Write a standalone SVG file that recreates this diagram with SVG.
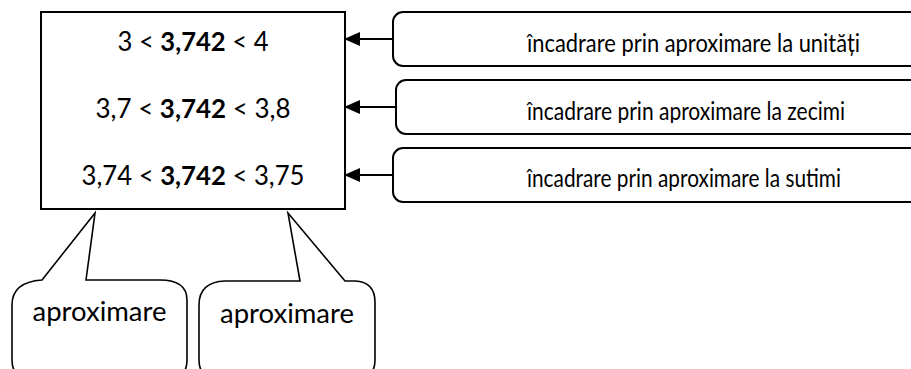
<svg xmlns="http://www.w3.org/2000/svg" width="911" height="369" viewBox="0 0 911 369">
<style>
.t{font-family:Lato,"Open Sans","Liberation Sans",sans-serif;font-size:26px;fill:#000}
.r{font-size:24.5px}
.c{font-size:27px}
.b{font-weight:bold}
.box{fill:#fff;stroke:#000;stroke-width:2}
.co{fill:#fff;stroke:#000;stroke-width:1.6;stroke-linejoin:miter}
.con{stroke:#000;stroke-width:2;fill:none}
</style>
<defs>
<marker id="ah" markerWidth="16" markerHeight="14" refX="15" refY="7" orient="auto" markerUnits="userSpaceOnUse">
<path d="M0,0 L16,7 L0,14 Z" fill="#000"/>
</marker>
<clipPath id="c2"><rect x="396" y="80" width="520" height="43"/></clipPath>
<clipPath id="c3"><rect x="393" y="148" width="520" height="43"/></clipPath>
</defs>

<g id="main">
<rect class="box" x="41" y="12" width="304" height="197"/>
<text class="t" x="193" y="51" text-anchor="middle" textLength="151" lengthAdjust="spacingAndGlyphs">3 &lt; <tspan class="b">3,742</tspan> &lt; 4</text>
<text class="t" x="193" y="118" text-anchor="middle" textLength="195" lengthAdjust="spacingAndGlyphs">3,7 &lt; <tspan class="b">3,742</tspan> &lt; 3,8</text>
<text class="t" x="193" y="185" text-anchor="middle" textLength="223" lengthAdjust="spacingAndGlyphs">3,74 &lt; <tspan class="b">3,742</tspan> &lt; 3,75</text>
</g>

<g id="unitati">
<rect class="box" x="393" y="12" width="540" height="54" rx="10"/>
<text class="t r" x="527" y="52" textLength="333" lengthAdjust="spacingAndGlyphs">încadrare prin aproximare la unități</text>
</g>
<g id="zecimi">
<rect class="box" x="396" y="80" width="540" height="54" rx="10"/>
<text class="t r" x="527" y="120" clip-path="url(#c2)" textLength="318" lengthAdjust="spacingAndGlyphs">încadrare prin aproximare la zecimi</text>
</g>
<g id="sutimi">
<rect class="box" x="393" y="148" width="540" height="54" rx="10"/>
<text class="t r" x="527" y="187" clip-path="url(#c3)" textLength="314" lengthAdjust="spacingAndGlyphs">încadrare prin aproximare la sutimi</text>
</g>

<g id="callout1">
<path class="co" d="M86,280 L95,213 L42,280 Q12,282 12,305 L12,360 Q12,380 35,380 L165,380 Q187,380 187,360 L187,300 Q187,280 160,280 Z"/>
<text class="t c" x="99.5" y="321" text-anchor="middle" textLength="134" lengthAdjust="spacingAndGlyphs">aproximare</text>
</g>
<g id="callout2">
<path class="co" d="M300,281 L288,213 L345,281 L355,281 Q375,282 375,302 L375,360 Q375,380 352,380 L222,380 Q199,380 199,360 L199,305 Q199,282 225,281 Z"/>
<text class="t c" x="287" y="323" text-anchor="middle" textLength="134" lengthAdjust="spacingAndGlyphs">aproximare</text>
</g>

<g id="connectors">
<line class="con" x1="393" y1="39" x2="345" y2="39" marker-end="url(#ah)"/>
<line class="con" x1="396" y1="107" x2="345" y2="107" marker-end="url(#ah)"/>
<line class="con" x1="393" y1="175" x2="345" y2="175" marker-end="url(#ah)"/>
</g>
</svg>
